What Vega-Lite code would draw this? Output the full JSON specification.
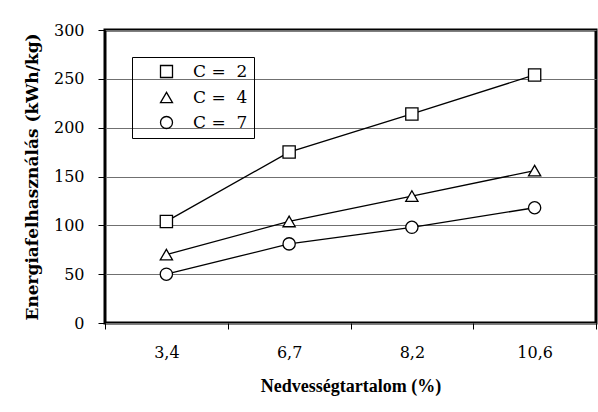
{
  "$schema": "https://vega.github.io/schema/vega-lite/v6.json",
  "width": 491,
  "height": 293,
  "autosize": "none",
  "padding": {"left": 105, "top": 30, "right": 2, "bottom": 89},
  "background": "white",
  "data": {
    "values": [
      {"m": "3,4", "c": "C =  2", "v": 104},
      {"m": "6,7", "c": "C =  2", "v": 175},
      {"m": "8,2", "c": "C =  2", "v": 214},
      {"m": "10,6", "c": "C =  2", "v": 254},
      {"m": "3,4", "c": "C =  4", "v": 70},
      {"m": "6,7", "c": "C =  4", "v": 104},
      {"m": "8,2", "c": "C =  4", "v": 130},
      {"m": "10,6", "c": "C =  4", "v": 156},
      {"m": "3,4", "c": "C =  7", "v": 50},
      {"m": "6,7", "c": "C =  7", "v": 81},
      {"m": "8,2", "c": "C =  7", "v": 98},
      {"m": "10,6", "c": "C =  7", "v": 118}
    ]
  },
  "encoding": {
    "x": {
      "field": "m",
      "type": "ordinal",
      "sort": null,
      "scale": {"type": "band", "domain": ["3,4", "6,7", "8,2", "10,6"], "paddingInner": 0, "paddingOuter": 0},
      "axis": {
        "title": "Nedvességtartalom (%)",
        "labelAngle": 0,
        "tickBand": "extent",
        "domain": false,
        "ticks": true,
        "tickSize": 6,
        "tickColor": "black",
        "labelPadding": 15,
        "titlePadding": 17,
        "titleFont": "Liberation Serif",
        "titleFontSize": 18
      }
    },
    "y": {
      "field": "v",
      "type": "quantitative",
      "scale": {"domain": [0, 300], "nice": false},
      "axis": {
        "title": "Energiafelhasználás (kWh/kg)",
        "values": [0, 50, 100, 150, 200, 250, 300],
        "grid": true,
        "gridColor": "#707070",
        "gridWidth": 1,
        "domain": false,
        "tickSize": 7,
        "tickColor": "black",
        "labelPadding": 14,
        "titlePadding": 12,
        "titleFont": "DejaVu Serif",
        "titleFontSize": 17
      }
    }
  },
  "layer": [
    {
      "mark": {"type": "line", "color": "black", "strokeWidth": 1.3},
      "encoding": {"detail": {"field": "c", "type": "nominal"}}
    },
    {
      "mark": {"type": "point", "filled": false, "fill": "white", "fillOpacity": 1, "stroke": "black", "color": "black", "strokeWidth": 1.3, "size": 150, "opacity": 1},
      "encoding": {
        "shape": {
          "field": "c",
          "type": "nominal",
          "scale": {"domain": ["C =  2", "C =  4", "C =  7"], "range": ["square", "triangle-up", "circle"]},
          "legend": {
            "title": null,
            "orient": "none",
            "legendX": 27,
            "legendY": 27,
            "strokeColor": "black",
            "padding": 6,
            "symbolSize": 144,
            "symbolOffset": 20,
            "symbolStrokeWidth": 1.3,
            "labelFont": "DejaVu Serif",
            "labelFontSize": 17,
            "labelColor": "black",
            "labelOffset": 18,
            "rowPadding": 7,
            "labelExpr": "replace(datum.label, '  ', ' \u00a0')"
          }
        }
      }
    }
  ],
  "config": {
    "view": {"stroke": "black", "strokeWidth": 3},
    "font": "DejaVu Serif",
    "axis": {
      "labelFont": "DejaVu Serif",
      "labelFontSize": 16,
      "labelColor": "black",
      "titleFontWeight": "bold",
      "titleColor": "black"
    }
  }
}
